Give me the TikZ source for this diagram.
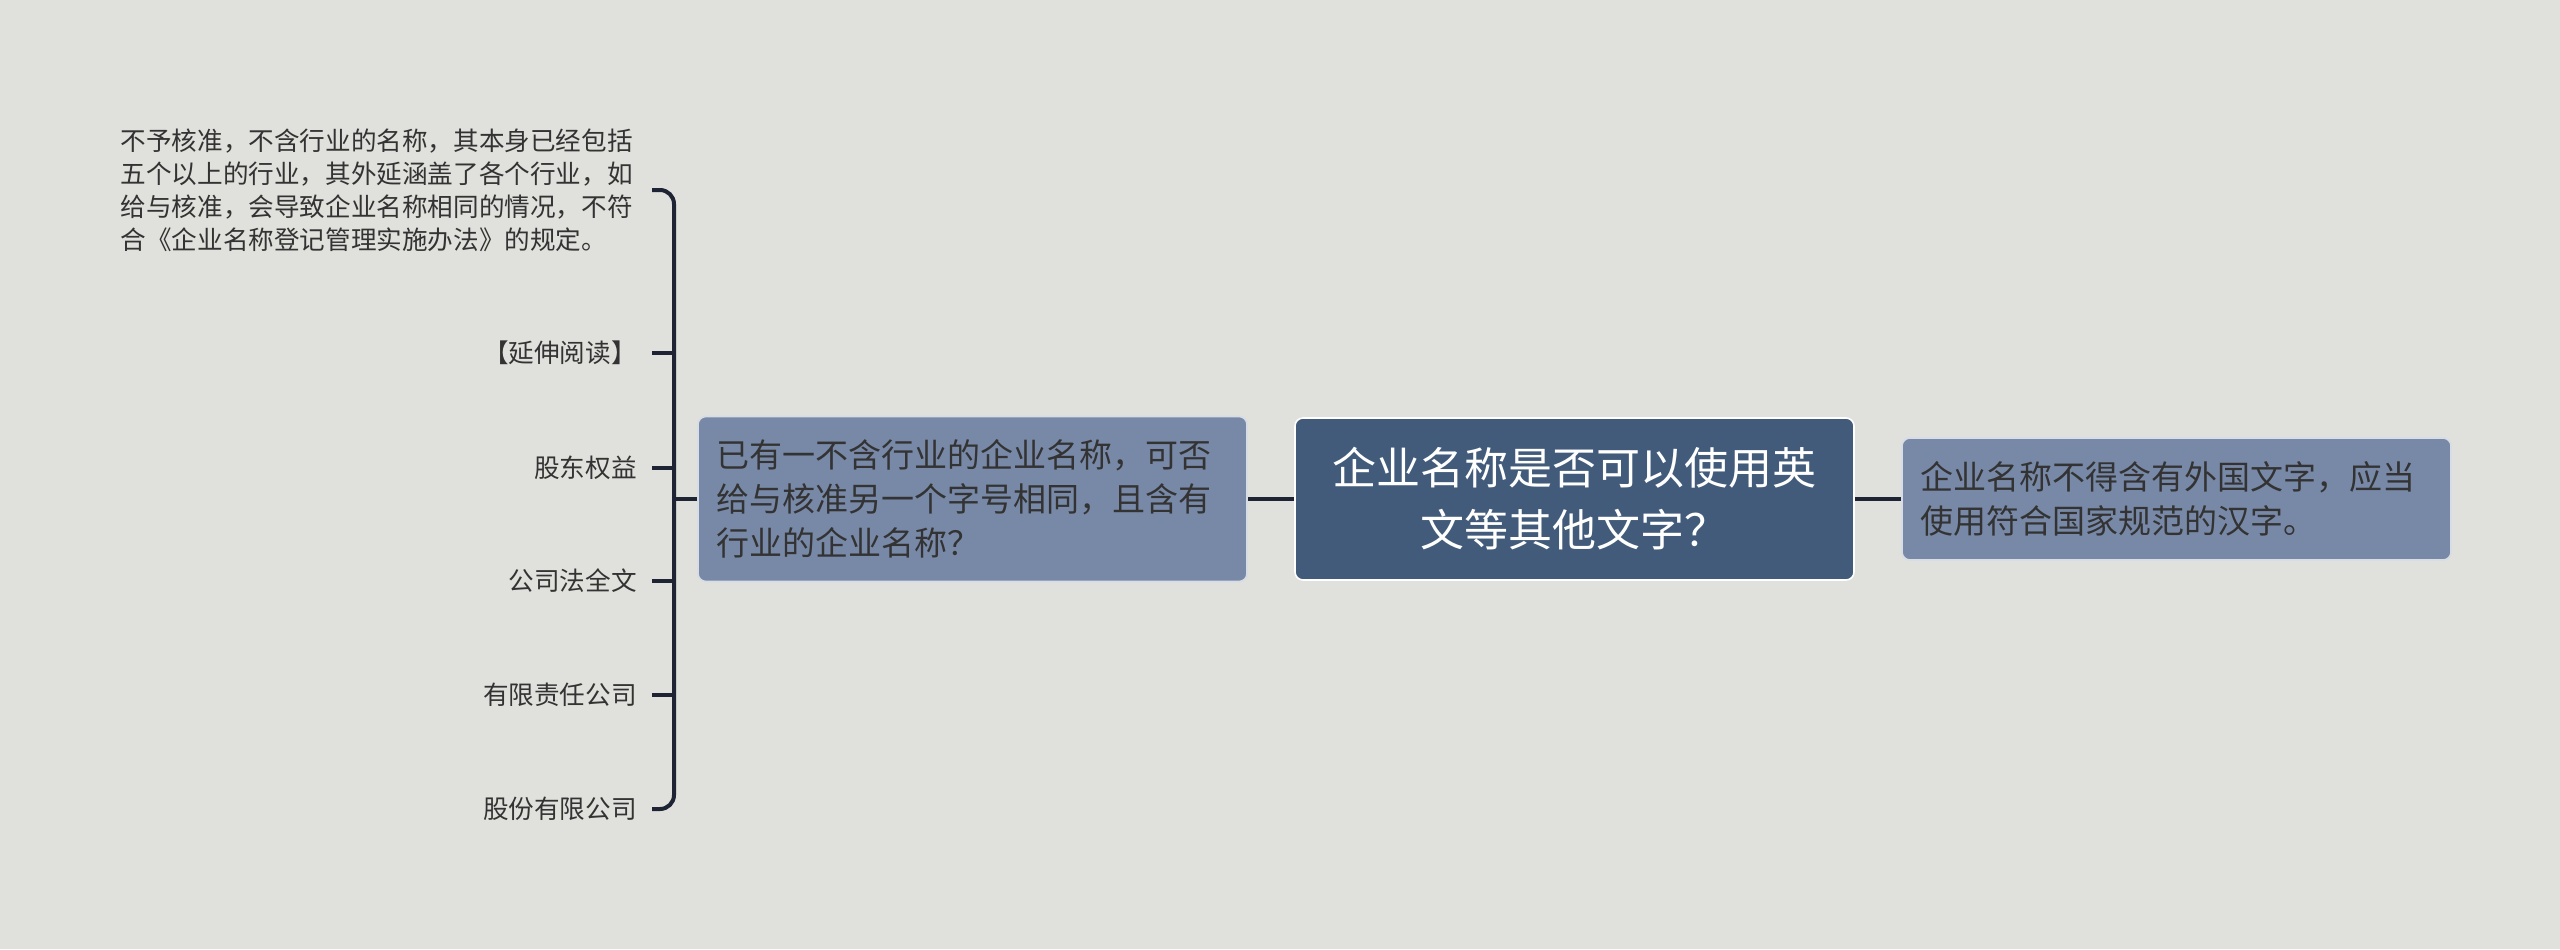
\documentclass[tikz,border=0pt]{standalone}
\usepackage{fontspec}
\setmainfont{Noto Sans CJK SC}
\usetikzlibrary{positioning}
\definecolor{bg}{HTML}{E0E1DC}
\definecolor{rootfill}{HTML}{425B7B}
\definecolor{subfill}{HTML}{7889A8}
\definecolor{ink}{HTML}{333333}
\definecolor{line}{HTML}{1E2433}

\begin{document}
\begin{tikzpicture}[node distance=301pt,on grid,
    root/.style={draw=white,line width=0.8pt,fill=rootfill,rounded corners=4pt,text=white,
      minimum width=279.5pt,minimum height=81pt,align=center,
      font=\fontsize{22pt}{31pt}\selectfont},
    topic/.style={draw=white!70!subfill,line width=0.8pt,fill=subfill,rounded corners=4pt,text=ink,
      minimum width=274.5pt,text width=256pt,inner xsep=9pt,align=left,
      font=\fontsize{16.5pt}{22pt}\selectfont},
    leaf/.style={text=ink,inner sep=0pt,anchor=east,font=\fontsize{12.8pt}{16.5pt}\selectfont},
    conn/.style={draw=line,line width=2pt},
    bracket/.style={draw=line,line width=2pt,rounded corners=7pt}]
    \fill[bg] (0,0) rectangle (1280pt,-474.5pt);
    \node[root]                        (q)     at (787.25pt,-249.5pt) {企业名称是否可以使用英\\文等其他文字？};
    \node[topic,minimum height=82.5pt] (ask)   [left=of q]  {已有一不含行业的企业名称，可否\\给与核准另一个字号相同，且含有\\行业的企业名称？};
    \node[topic,minimum height=61pt]   (ans)   [right=of q] {企业名称不得含有外国文字，应当\\使用符合国家规范的汉字。};
    \coordinate (spine) at (337pt,-249.5pt);
    \node[leaf,text width=258pt,align=left] (l1) at (318.5pt,-95pt)
      {不予核准，不含行业的名称，其本身已经包括\\五个以上的行业，其外延涵盖了各个行业，如\\给与核准，会导致企业名称相同的情况，不符\\合《企业名称登记管理实施办法》的规定。};
    \node[leaf] (l2) at (318.5pt,-176.5pt) {【延伸阅读】};
    \node[leaf] (l3) at (318.5pt,-234pt)   {股东权益};
    \node[leaf] (l4) at (318.5pt,-290.5pt) {公司法全文};
    \node[leaf] (l5) at (318.5pt,-347.5pt) {有限责任公司};
    \node[leaf] (l6) at (318.5pt,-404.5pt) {股份有限公司};

    \path[conn] (q) -- (ask)
                (q) -- (ans)
                (ask) -- (spine);
    \draw[bracket] ([xshift=7.5pt]l1.east) -| (spine |- l6.east) -- ([xshift=7.5pt]l6.east);
    \draw[conn] ([xshift=7.5pt]l2.east) -- (spine |- l2.east);
    \draw[conn] ([xshift=7.5pt]l3.east) -- (spine |- l3.east);
    \draw[conn] ([xshift=7.5pt]l4.east) -- (spine |- l4.east);
    \draw[conn] ([xshift=7.5pt]l5.east) -- (spine |- l5.east);
\end{tikzpicture}
\end{document}
